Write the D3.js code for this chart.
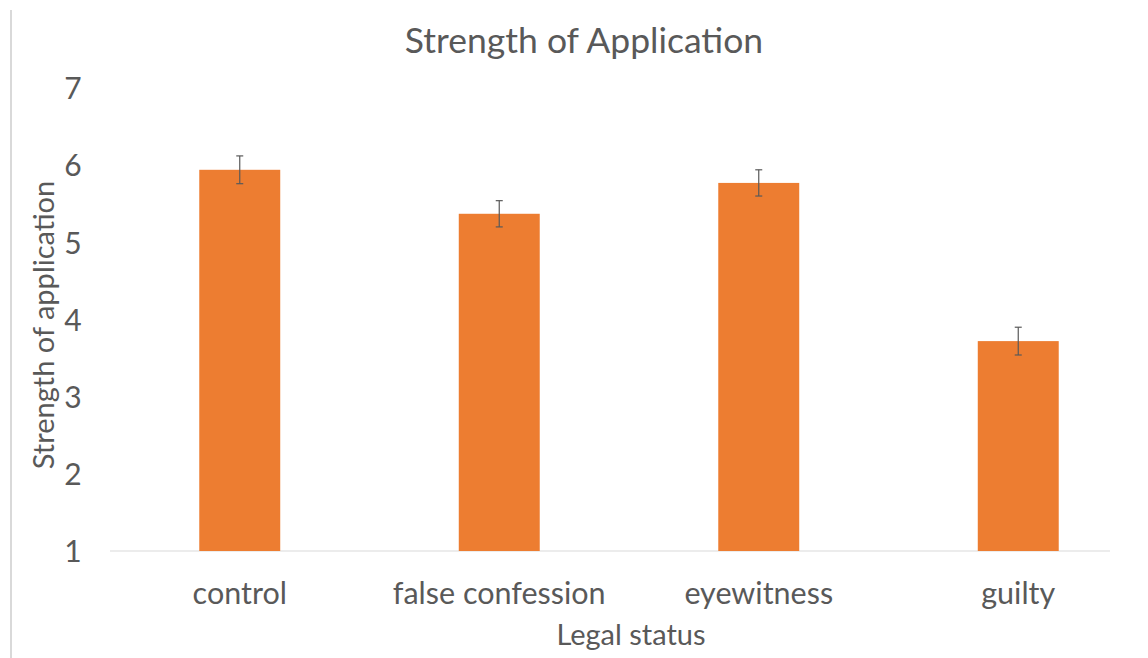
<!DOCTYPE html>
<html><head><meta charset="utf-8">
<script src="https://cdn.jsdelivr.net/npm/d3@7"></script>
<style>body{margin:0;background:#fff;} svg{display:block;font-family:Lato,"Open Sans",sans-serif;}</style>
</head><body>
<svg id="c" width="1148" height="658"></svg>
<script>
const categories = ["control","false confession","eyewitness","guilty"];
const values = [5.94, 5.37, 5.77, 3.72];
const errors = [0.18, 0.17, 0.17, 0.18];
const yTicks = [1,2,3,4,5,6,7];

const svg = d3.select("#c");
const W = 1148, H = 658;
const x = d3.scaleBand().domain(categories).range([110,1148]).paddingInner(0.688).paddingOuter(0.344);
const y = d3.scaleLinear().domain([1,7]).range([551,88]);
const textColor = "#595959";

svg.append("line").attr("x1",11).attr("x2",11).attr("y1",10).attr("y2",H).attr("stroke","#d9d9d9").attr("stroke-width",2);

svg.append("line").attr("x1",110).attr("x2",1110).attr("y1",y(1)).attr("y2",y(1)).attr("stroke","#e6e6e6").attr("stroke-width",1.5);

svg.selectAll("rect.bar").data(categories).enter().append("rect")
  .attr("x",d=>x(d)).attr("width",x.bandwidth())
  .attr("y",(d,i)=>y(values[i])).attr("height",(d,i)=>y(1)-y(values[i]))
  .attr("fill","#ed7d31");

const eg = svg.append("g").attr("stroke","#595959").attr("stroke-width",1.2);
categories.forEach((c,i)=>{
  const cx = x(c)+x.bandwidth()/2;
  const t = y(values[i]+errors[i]), b = y(values[i]-errors[i]);
  eg.append("line").attr("x1",cx).attr("x2",cx).attr("y1",t).attr("y2",b);
  eg.append("line").attr("x1",cx-3.5).attr("x2",cx+3.5).attr("y1",t).attr("y2",t);
  eg.append("line").attr("x1",cx-3.5).attr("x2",cx+3.5).attr("y1",b).attr("y2",b);
});

const yAxis = d3.axisLeft(y).tickValues(yTicks).tickFormat(d3.format("d")).tickSize(0).tickPadding(0);
const ya = svg.append("g").attr("transform","translate(80,0)").call(yAxis).attr("font-family",null).attr("font-size",null);
ya.select(".domain").remove();
ya.selectAll("text").attr("fill",textColor).style("font-size","30px").attr("text-anchor","middle").attr("x",-7).attr("dy","0.36em");

const xAxis = d3.axisBottom(x).tickSize(0).tickPadding(0);
const xa = svg.append("g").attr("transform",`translate(0,${y(1)})`).call(xAxis).attr("font-family",null).attr("font-size",null);
xa.select(".domain").remove();
xa.selectAll("text").attr("fill",textColor).style("font-size","30.5px").attr("dy",null).attr("y",53);

svg.append("text").attr("x",584).attr("y",53).attr("text-anchor","middle").attr("fill",textColor).style("font-size","35.5px").text("Strength of Application");
svg.append("text").attr("x",631).attr("y",645).attr("text-anchor","middle").attr("fill",textColor).style("font-size","29px").text("Legal status");
svg.append("text").attr("transform","translate(54,325) rotate(-90)").attr("text-anchor","middle").attr("fill",textColor).style("font-size","29px").text("Strength of application");
</script>
</body></html>
